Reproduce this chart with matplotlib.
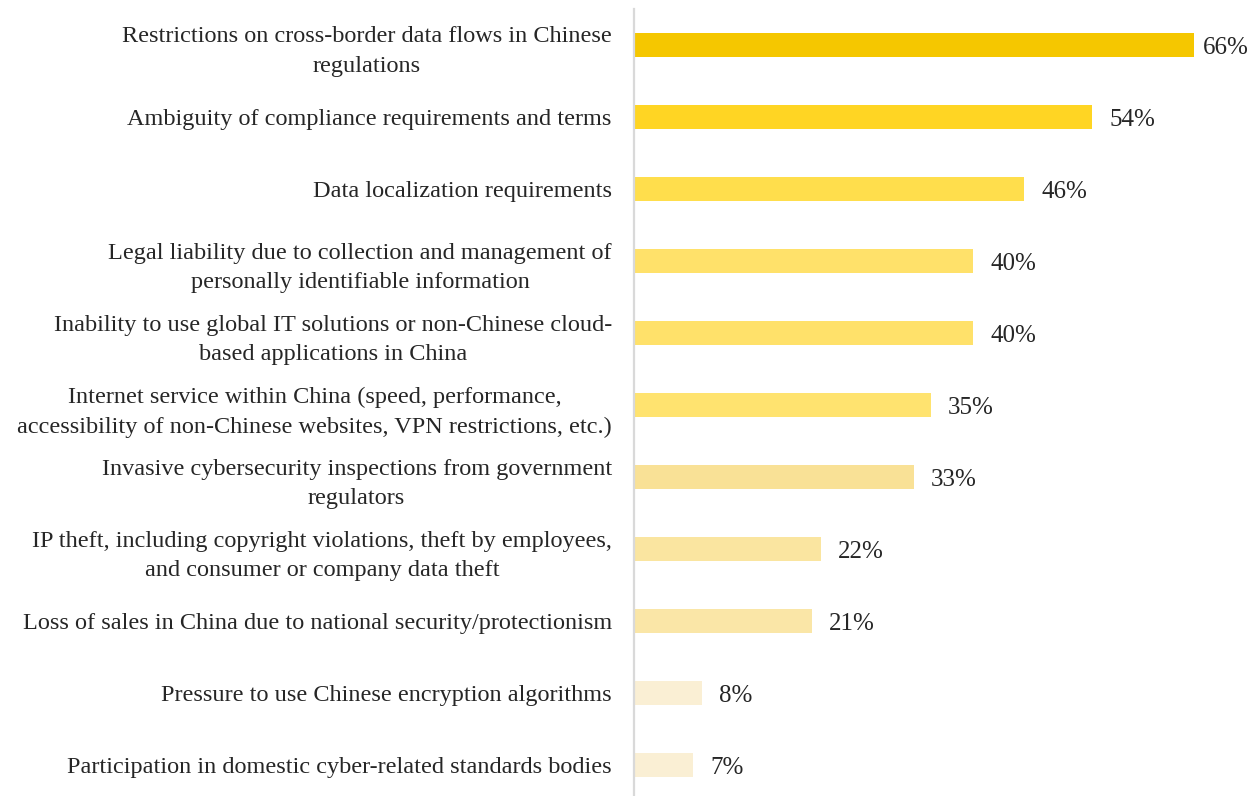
import matplotlib
matplotlib.use("Agg")
import matplotlib.pyplot as plt
from matplotlib.transforms import ScaledTranslation

categories = [
    "Restrictions on cross-border data flows in Chinese\nregulations",
    "Ambiguity of compliance requirements and terms",
    "Data localization requirements",
    "Legal liability due to collection and management of\npersonally identifiable information",
    "Inability to use global IT solutions or non-Chinese cloud-\nbased applications in China",
    "Internet service within China (speed, performance,\naccessibility of non-Chinese websites, VPN restrictions, etc.)",
    "Invasive cybersecurity inspections from government\nregulators",
    "IP theft, including copyright violations, theft by employees,\nand consumer or company data theft",
    "Loss of sales in China due to national security/protectionism",
    "Pressure to use Chinese encryption algorithms",
    "Participation in domestic cyber-related standards bodies",
]
values = [66, 54, 46, 40, 40, 35, 33, 22, 21, 8, 7]
colors = ["#F5C700", "#FFD523", "#FFDE4C", "#FFE16A", "#FFE16A", "#FFE36F",
          "#F9E196", "#FAE5A0", "#FAE6A7", "#FAEFD4", "#FAEFD4"]

plt.rcParams["font.family"] = ["Liberation Serif", "DejaVu Serif"]

fig = plt.figure(figsize=(12.52, 7.96), dpi=100)
ax = fig.add_axes([634 / 1252, 0, 1 - 634 / 1252, 1 - 9 / 796])

y = list(range(len(values)))
ax.barh(y, values, height=0.34, color=colors, edgecolor="none")
ax.set_xlim(0, 618 / 8.485)
ax.set_ylim(len(values) - 1 + (796 - 9 - 36 - 720) / 72, -0.5)

ax.set_yticks(y)
ax.set_yticklabels(categories, fontsize=17.5, color="#262626", ha="right",
                   multialignment="center", linespacing=1.55)
ax.tick_params(axis="y", length=0, pad=16)
ax.set_xticks([])
for side in ["top", "right", "bottom"]:
    ax.spines[side].set_visible(False)
ax.spines["left"].set_color("#D9D9D9")
ax.spines["left"].set_linewidth(1.6)

fig.canvas.draw()
renderer = fig.canvas.get_renderer()
gap = 17 / 100
for yi, v in zip(y, values):
    t = ax.text(v, yi, f"{v}%", fontsize=18, color="#262626",
                va="center_baseline", ha="left",
                transform=ax.transData + ScaledTranslation(gap, 0, fig.dpi_scale_trans))
    bb = t.get_window_extent(renderer)
    if bb.x1 > fig.bbox.x1 - 3:
        shift = (bb.x1 - fig.bbox.x1 + 3) / 100
        t.set_transform(ax.transData + ScaledTranslation(gap - shift, 0, fig.dpi_scale_trans))

fig.savefig("out.png", dpi=100)
